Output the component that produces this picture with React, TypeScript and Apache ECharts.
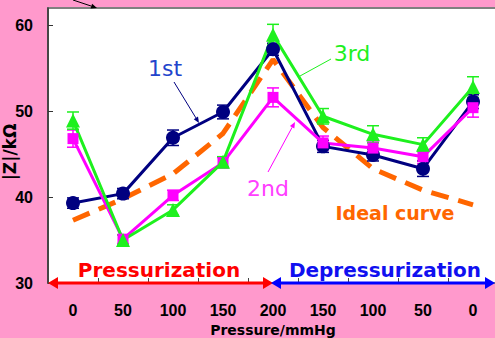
import React, { useEffect, useRef } from 'react';
import * as echarts from 'echarts';

const categories = ['0', '50', '100', '150', '200', '150', '100', '50', '0'];
const first = [39.3, 40.4, 46.9, 49.9, 57.2, 45.9, 44.9, 43.3, 51.1];
const second = [46.8, 35.1, 40.2, 44.0, 51.6, 46.3, 45.7, 44.7, 50.4];
const third = [48.9, 35.0, 38.5, 44.1, 58.9, 49.4, 47.3, 46.1, 52.8];
const ideal = [37.3, 39.8, 42.7, 47.4, 56.0, 48.1, 43.3, 40.8, 39.1];
const err1 = [0.6, 0.6, 0.9, 0.8, 0.7, 0.7, 0.7, 0.9, 0.8];
const err2 = [1.0, 0.5, 0.6, 0.6, 1.1, 0.8, 0.7, 0.8, 1.1];
const err3 = [1.0, 0.6, 0.6, 0.6, 1.2, 0.9, 1.0, 0.8, 1.2];

const NAVY = '#000080';
const MAGENTA = '#FF00FF';
const GREEN = '#1EF01E';
const ORANGE = '#FF6600';

function errRender(color: string) {
  return (params: any, api: any) => {
    const x = api.value(0);
    const lo = api.value(1);
    const hi = api.value(2);
    const p1 = api.coord([x, hi]);
    const p2 = api.coord([x, lo]);
    const w = 6;
    const style = { stroke: color, lineWidth: 1.5 };
    return {
      type: 'group',
      children: [
        { type: 'line', shape: { x1: p1[0], y1: p1[1], x2: p2[0], y2: p2[1] }, style },
        { type: 'line', shape: { x1: p1[0] - w, y1: p1[1], x2: p1[0] + w, y2: p1[1] }, style },
        { type: 'line', shape: { x1: p2[0] - w, y1: p2[1], x2: p2[0] + w, y2: p2[1] }, style },
      ],
    };
  };
}

function errSeries(vals: number[], errs: number[], color: string) {
  return {
    type: 'custom',
    renderItem: errRender(color),
    data: vals.map((v, i) => [i, v - errs[i], v + errs[i]]),
    encode: { x: 0, y: [1, 2] },
    z: 3,
    silent: true,
  };
}

function lineSeries(vals: number[], color: string, symbol: string, size: number) {
  return {
    type: 'line',
    data: vals,
    symbol,
    symbolSize: size,
    showSymbol: true,
    lineStyle: { color, width: 3 },
    itemStyle: { color, opacity: 1 },
    emphasis: { disabled: true },
    z: 4,
    silent: true,
  };
}

function arrow(x1: number, y1: number, x2: number, y2: number, color: string, lw: number, len: number, hw: number) {
  const dx = x2 - x1;
  const dy = y2 - y1;
  const d = Math.sqrt(dx * dx + dy * dy);
  const ux = dx / d;
  const uy = dy / d;
  const bx = x2 - ux * len;
  const by = y2 - uy * len;
  return [
    { type: 'line', shape: { x1, y1, x2: bx, y2: by }, style: { stroke: color, lineWidth: lw }, z: 100 },
    {
      type: 'polygon',
      shape: { points: [[x2, y2], [bx - uy * hw, by + ux * hw], [bx + uy * hw, by - ux * hw]] },
      style: { fill: color },
      z: 100,
    },
  ];
}

function label(text: string, x: number, y: number, color: string, size: number, weight: string, family: string, rotation = 0) {
  return {
    type: 'text',
    x,
    y,
    rotation,
    z: 100,
    style: {
      text,
      fill: color,
      fontSize: size,
      fontWeight: weight,
      fontFamily: family,
      align: 'center',
      verticalAlign: 'middle',
    },
  };
}

export default function App() {
  const ref = useRef<HTMLDivElement>(null);
  useEffect(() => {
    if (!ref.current) return;
    const chart = echarts.init(ref.current, undefined, { renderer: 'svg' });
    const option: any = {
      animation: false,
      backgroundColor: '#FF99CC',
      grid: {
        left: 48,
        top: 8,
        width: 450,
        height: 275,
        show: true,
        backgroundColor: '#ffffff',
        borderColor: '#808080',
        borderWidth: 2,
        containLabel: false,
        outerBoundsMode: 'none',
      },
      xAxis: {
        type: 'category',
        data: categories,
        boundaryGap: true,
        axisLine: { show: false },
        axisTick: { show: true, inside: true, length: 5, lineStyle: { color: '#444', width: 1 } },
        axisLabel: {
          color: '#000',
          fontSize: 16,
          fontWeight: 'bold',
          fontFamily: 'Liberation Sans',
          margin: 19,
        },
        name: 'Pressure/mmHg',
        nameLocation: 'middle',
        nameGap: 40,
        nameTextStyle: { color: '#000', fontSize: 14, fontWeight: 'bold', fontFamily: 'DejaVu Sans' },
        splitLine: { show: false },
      },
      yAxis: {
        type: 'value',
        min: 30,
        max: 62,
        interval: 10,
        axisLine: { show: true, lineStyle: { color: '#333', width: 1.5 } },
        axisTick: { show: true, inside: true, length: 5, lineStyle: { color: '#333' } },
        axisLabel: {
          color: '#000',
          fontSize: 16,
          fontWeight: 'bold',
          fontFamily: 'Liberation Sans',
          margin: 15,
          showMaxLabel: false,
        },
        splitLine: { show: false },
      },
      series: [
        {
          type: 'line',
          data: ideal,
          symbol: 'none',
          lineStyle: { color: ORANGE, width: 5, type: [18, 10], cap: 'butt' },
          z: 2,
          silent: true,
        },
        errSeries(first, err1, NAVY),
        errSeries(second, err2, MAGENTA),
        errSeries(third, err3, GREEN),
        lineSeries(first, NAVY, 'circle', 14),
        lineSeries(second, MAGENTA, 'rect', 11),
        lineSeries(third, GREEN, 'triangle', 14),
      ],
      graphic: [
        // axis arrows
        { type: 'line', shape: { x1: 56, y1: 283, x2: 265, y2: 283 }, style: { stroke: '#FF0000', lineWidth: 3 }, z: 90 },
        { type: 'polygon', shape: { points: [[48, 283], [58, 277], [58, 289]] }, style: { fill: '#FF0000' }, z: 90 },
        { type: 'polygon', shape: { points: [[273, 283], [263, 277], [263, 289]] }, style: { fill: '#FF0000' }, z: 90 },
        { type: 'line', shape: { x1: 279, y1: 283, x2: 488, y2: 283 }, style: { stroke: '#0000FF', lineWidth: 3 }, z: 91 },
        { type: 'polygon', shape: { points: [[271, 283], [281, 277], [281, 289]] }, style: { fill: '#0000FF' }, z: 91 },
        { type: 'polygon', shape: { points: [[495, 283], [485, 277], [485, 289]] }, style: { fill: '#0000FF' }, z: 91 },
        label('Pressurization', 159, 270, '#FF0000', 20, 'bold', 'DejaVu Sans'),
        label('Depressurization', 385, 270, '#1010F0', 20, 'bold', 'DejaVu Sans'),
        // annotations
        label('1st', 165, 68, '#2244CC', 22, 'normal', 'DejaVu Sans'),
        ...arrow(174, 82, 199, 123, NAVY, 1, 6, 2.5),
        label('3rd', 352, 53, GREEN, 22, 'normal', 'DejaVu Sans'),
        { type: 'line', shape: { x1: 331, y1: 59, x2: 300, y2: 76 }, style: { stroke: GREEN, lineWidth: 1 }, z: 100 },
        label('2nd', 268, 188, '#FF40FF', 22, 'normal', 'DejaVu Sans'),
        ...arrow(268, 172, 295, 122, MAGENTA, 1, 6, 2.5),
        label('Ideal curve', 395, 213, ORANGE, 19, 'bold', 'DejaVu Sans'),
        ...arrow(73, 0, 97, 8, '#000', 1, 6, 2.5),
        label('|Z|/kΩ', 10, 152, '#000', 17, 'bold', 'DejaVu Sans', Math.PI / 2),
      ],
    };
    chart.setOption(option);
    return () => chart.dispose();
  }, []);
  return (
    <div
      ref={ref}
      style={{ position: 'fixed', left: 0, top: 0, width: 495, height: 338 }}
    />
  );
}
